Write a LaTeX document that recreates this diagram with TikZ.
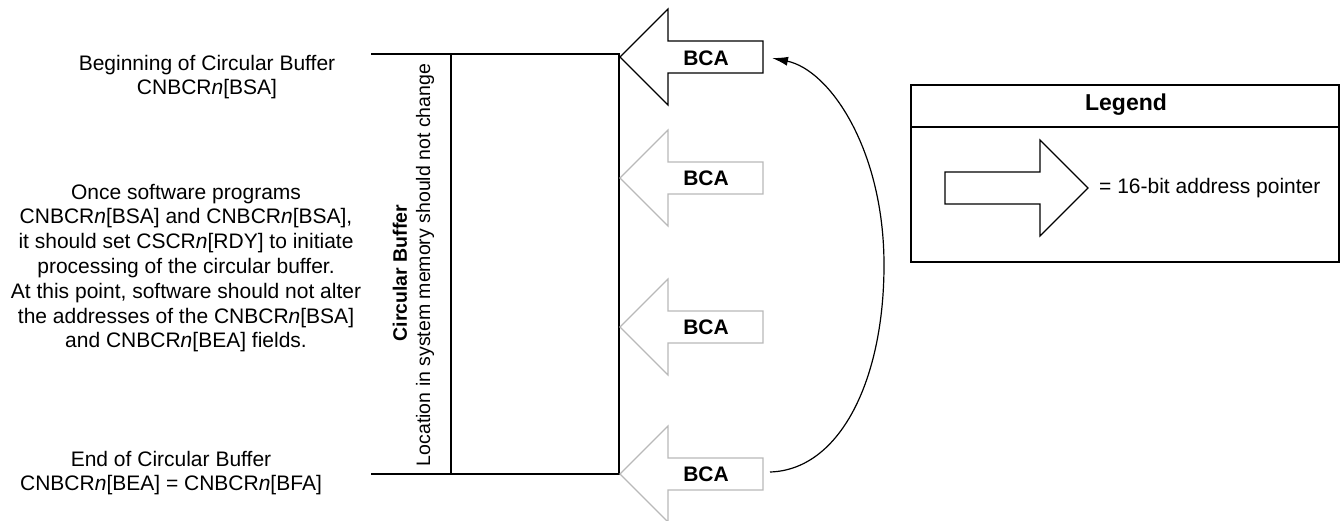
\documentclass[tikz,border=0pt]{standalone}
\usepackage{fontspec}
\setmainfont{Liberation Sans}
\usetikzlibrary{arrows.meta}
\definecolor{arrowgray}{RGB}{185,185,185}
\tikzset{
  bcaarrow/.pic={
    \draw[pic actions] (0,0) -- (48,-48) -- (48,-16) -- (143,-16) -- (143,16) -- (48,16) -- (48,48) -- cycle;
  },
  ptrblack/.style={draw=black, line width=1.2pt, line join=miter, fill=white},
  ptrgray/.style={draw=arrowgray, line width=1.2pt, line join=miter, fill=white},
  lbl/.style={font=\fontsize{21}{24.8}\selectfont\bfseries, inner sep=0pt},
  body/.style={font=\fontsize{21}{24.8}\selectfont, align=center, inner sep=0pt},
  vtext/.style={font=\fontsize{19.5}{22}\selectfont, rotate=90, inner sep=0pt},
  bufline/.style={line width=2pt},
  loopline/.style={line width=1.2pt, -{Latex[length=16pt,width=9pt]}}
}
\begin{document}
\begin{tikzpicture}[x=1pt,y=-1pt]
\useasboundingbox (0,0) rectangle (1344,521);

% circular buffer
\coordinate (tl) at (371,54);
\coordinate (tr) at (619,54);
\coordinate (bl) at (371,474);
\coordinate (br) at (619,474);
\coordinate (it) at (451,54);
\coordinate (ib) at (451,474);
\draw[bufline] (tl) -- (tr) -- (br) -- (bl);
\draw[bufline] (it) -- (ib);

\node[vtext, font=\fontsize{19.5}{22}\selectfont\bfseries] (cbtitle) at (400,273) {Circular Buffer};
\node[vtext] (cbsub) at (425,265) {Location in system memory should not change};

% pointers
\pic[ptrgray] at (620,178) {bcaarrow};
\pic[ptrgray] at (620,327) {bcaarrow};
\pic[ptrgray] at (620,474) {bcaarrow};
\pic[ptrblack] at (620,57) {bcaarrow};
\node[lbl] (bca1) at (706,58) {BCA};
\node[lbl] (bca2) at (706,178) {BCA};
\node[lbl] (bca3) at (706,327) {BCA};
\node[lbl] (bca4) at (706,474) {BCA};

% loop-back connector
\coordinate (c4) at (770,472);
\coordinate (cm) at (884,265);
\coordinate (c1) at (772,58);
\draw[loopline] (c4) .. controls (840,470) and (884,380) .. (cm)
   .. controls (884,150) and (830,70) .. (c1);

% left texts
\node[body] (begin) at (207,77) {Beginning of Circular Buffer\\CNBCR\textit{n}[BSA]};
\node[body] (mid) at (186,268) {Once software programs\\CNBCR\textit{n}[BSA] and CNBCR\textit{n}[BSA],\\it should set CSCR\textit{n}[RDY] to initiate\\processing of the circular buffer.\\At this point, software should not alter\\the addresses of the CNBCR\textit{n}[BSA]\\and CNBCR\textit{n}[BEA] fields.};
\node[body] (end) at (171,473) {End of Circular Buffer\\CNBCR\textit{n}[BEA] = CNBCR\textit{n}[BFA]};

% legend
\coordinate (lg1) at (911,85);
\coordinate (lg2) at (1339,262);
\coordinate (ls1) at (911,127);
\coordinate (ls2) at (1339,127);
\draw[line width=2.5pt] (lg1) rectangle (lg2);
\draw[line width=2.5pt] (ls1) -- (ls2);
\node[lbl, font=\fontsize{23}{26}\selectfont\bfseries] (legtitle) at (1126,105) {Legend};
\pic[ptrblack, xscale=-1] at (1088,188) {bcaarrow};
\node[body, anchor=west] (legtext) at (1099,188) {= 16-bit address pointer};
\end{tikzpicture}
\end{document}
